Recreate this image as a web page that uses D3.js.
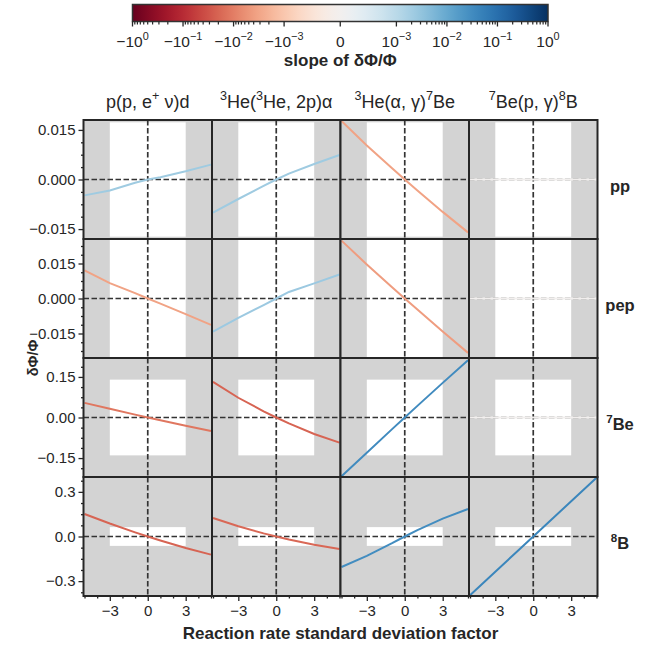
<!DOCTYPE html>
<html lang="en">
<head>
<meta charset="utf-8">
<title>Neutrino flux response to reaction rates</title>
<script src="https://cdn.jsdelivr.net/npm/d3@7"></script>
<style>
  body { margin: 0; background: #fff; }
  svg text { font-family: "Liberation Sans", Arial, sans-serif; fill: #262626; }
</style>
</head>
<body>
<svg id="chart" width="656" height="646"></svg>
<script>
// rate factors (in standard deviations) where the flux change was sampled
var xFactors = [-5, -3, -1, 0, 1, 3, 5];
var xTicks = [-3, 0, 3];
var xMinor = [-5, -4, -2, -1, 1, 2, 4, 5];

var reactions = ["p(p, e^{+} ν)d", "^{3}He(^{3}He, 2p)α", "^{3}He(α, γ)^{7}Be", "^{7}Be(p, γ)^{8}B"];
var fluxes = ["pp", "pep", "^{7}Be", "^{8}B"];

// δΦ/Φ for each flux, one list per reaction (columns)
var ppShift = [
  [-0.0048, -0.0033, -0.0010, 0, 0.0007, 0.0025, 0.0045],
  [-0.0100, -0.0059, -0.0019, 0, 0.0018, 0.0047, 0.0074],
  [0.0177, 0.0103, 0.0034, 0, -0.0033, -0.0098, -0.0160],
  [0, 0, 0, 0, 0, 0, 0]
];
var pepShift = [
  [0.0121, 0.0066, 0.0023, 0, -0.0022, -0.0067, -0.0113],
  [-0.0142, -0.0083, -0.0028, 0, 0.0028, 0.0065, 0.0103],
  [0.0248, 0.0146, 0.0048, 0, -0.0047, -0.0141, -0.0233],
  [0, 0, 0, 0, 0, 0, 0]
];
var be7Shift = [
  [0.054, 0.032, 0.0106, 0, -0.0103, -0.0307, -0.050],
  [0.132, 0.073, 0.023, 0, -0.022, -0.061, -0.093],
  [-0.217, -0.130, -0.043, 0, 0.043, 0.128, 0.212],
  [0, 0, 0, 0, 0, 0, 0]
];
var b8Shift = [
  [0.151, 0.087, 0.028, 0, -0.027, -0.077, -0.122],
  [0.124, 0.069, 0.021, 0, -0.020, -0.055, -0.084],
  [-0.205, -0.130, -0.045, 0, 0.043, 0.120, 0.185],
  [-0.395, -0.237, -0.079, 0, 0.079, 0.237, 0.395]
];
var shifts = [ppShift, pepShift, be7Shift, b8Shift];

// slope of δΦ/Φ per panel (sets the line colour)
var ppSlope = [0.0022, 0.0022, -0.0034, 0];
var pepSlope = [-0.0034, 0.0024, -0.0040, 0];
var be7Slope = [-0.012, -0.020, 0.032, 0];
var b8Slope = [-0.020, -0.018, 0.030, 0.040];
var slopes = [ppSlope, pepSlope, be7Slope, b8Slope];

// per-flux axis range, ticks and flux uncertainty band (white box)
var yLimits = [0.018, 0.0255, 0.22, 0.40];
var yTicks = [[-0.015, 0, 0.015], [-0.015, 0, 0.015], [-0.15, 0, 0.15], [-0.3, 0, 0.3]];
var yFormats = [".3f", ".3f", ".2f", ".1f"];
var fluxBand = [0.0173, 0.03, 0.14, 0.063];

// colour bar ticks
var cbMajor = [-1, -0.1, -0.01, -0.001, 0, 0.001, 0.01, 0.1, 1];
var cbLabels = ["−10^{0}", "−10^{−1}", "−10^{−2}", "−10^{−3}", "0", "10^{−3}", "10^{−2}", "10^{−1}", "10^{0}"];

var svg = d3.select("#chart");
var ink = "#262626";
var gridLeft = 83.5, gridTop = 120, pw = 128.5, ph = 119;

// symmetric log norm, linthresh 1e-3, linscale 1
var linthresh = 1e-3, linAdj = 1 / (1 - 1 / 10);
function symlog(v) {
  var a = Math.abs(v);
  if (a <= linthresh) return v / linthresh * linAdj;
  return Math.sign(v) * (linAdj + Math.log10(a / linthresh));
}
var fmax = symlog(1);
function slopeColor(s) {
  return d3.interpolateRdBu((symlog(s) + fmax) / (2 * fmax));
}

// text with ^{..} superscripts
function rich(t, str, size) {
  var parts = str.split(/(\^\{[^}]*\})/).filter(function(s) { return s.length; });
  var up = false;
  parts.forEach(function(p) {
    var sup = p.indexOf("^{") === 0;
    var ts = t.append("tspan").text(sup ? p.slice(2, -1) : p);
    if (sup) {
      ts.style("font-size", size * 0.7 + "px").attr("dy", up ? 0 : -size * 0.42);
      up = true;
    } else {
      ts.style("font-size", size + "px").attr("dy", up ? size * 0.42 : 0);
      up = false;
    }
  });
}

function styleAxis(g, size) {
  g.attr("font-family", null).attr("font-size", null);
  g.select(".domain").remove();
  g.selectAll(".tick line").attr("stroke", ink).attr("stroke-width", 1.3);
  g.selectAll(".tick text").attr("fill", ink).style("font-size", size + "px");
}

var x = d3.scaleLinear().domain([-5.08, 5.08]).range([0, pw]);
var defs = svg.append("defs");
defs.append("clipPath").attr("id", "panelclip")
  .append("rect").attr("width", pw).attr("height", ph);

shifts.forEach(function(rowData, r) {
  var lim = yLimits[r];
  var y = d3.scaleLinear().domain([-lim, lim]).range([ph, 0]);
  var line = d3.line().x(function(d, i) { return x(xFactors[i]); }).y(function(d) { return y(d); });

  rowData.forEach(function(vals, c) {
    var g = svg.append("g").attr("transform", "translate(" + (gridLeft + c * pw) + "," + (gridTop + r * ph) + ")");
    var inner = g.append("g").attr("clip-path", "url(#panelclip)");
    inner.append("rect").attr("width", pw).attr("height", ph).attr("fill", "#d3d3d3");
    inner.append("rect")
      .attr("x", x(-3)).attr("width", x(3) - x(-3))
      .attr("y", y(fluxBand[r])).attr("height", y(-fluxBand[r]) - y(fluxBand[r]))
      .attr("fill", "#fff");
    inner.append("line").attr("x1", x(0)).attr("x2", x(0)).attr("y1", 0).attr("y2", ph)
      .attr("stroke", "#333").attr("stroke-width", 1.7).attr("stroke-dasharray", "5.5,2.5");
    inner.append("line").attr("x1", 0).attr("x2", pw).attr("y1", y(0)).attr("y2", y(0))
      .attr("stroke", "#333").attr("stroke-width", 1.7).attr("stroke-dasharray", "5.5,2.5");
    inner.append("path").datum(vals).attr("d", line)
      .attr("fill", "none").attr("stroke", slopeColor(slopes[r][c])).attr("stroke-width", 2);

    if (c === 0) {
      var step = yTicks[r][2] / 4;
      var n = Math.floor(lim / step + 1e-9);
      var minor = d3.range(-n, n + 1).filter(function(k) { return k % 4 !== 0; })
        .map(function(k) { return k * step; });
      g.append("g").call(d3.axisLeft(y).tickValues(minor).tickSize(2.5).tickFormat(""))
        .call(styleAxis, 15);
      g.append("g").call(d3.axisLeft(y).tickValues(yTicks[r]).tickSize(5).tickPadding(3)
          .tickFormat(d3.format(yFormats[r])))
        .call(styleAxis, 15);
    }
    if (r === shifts.length - 1) {
      g.append("g").attr("transform", "translate(0," + ph + ")")
        .call(d3.axisBottom(x).tickValues(xMinor).tickSize(2.5).tickFormat(""))
        .call(styleAxis, 15);
      g.append("g").attr("transform", "translate(0," + ph + ")")
        .call(d3.axisBottom(x).tickValues(xTicks).tickSize(5).tickPadding(4).tickFormat(d3.format("d")))
        .call(styleAxis, 15);
    }
    g.append("rect").attr("width", pw).attr("height", ph)
      .attr("fill", "none").attr("stroke", ink).attr("stroke-width", 2);
  });

  var lab = svg.append("text").attr("x", 620).attr("y", gridTop + r * ph + ph / 2 + 12)
    .attr("text-anchor", "middle").attr("font-weight", "bold");
  rich(lab, fluxes[r], 16.5);
});

reactions.forEach(function(name, c) {
  var t = svg.append("text").attr("x", gridLeft + c * pw + pw / 2).attr("y", 108)
    .attr("text-anchor", "middle");
  rich(t, name, 18);
});

svg.append("text").attr("transform", "translate(38," + (gridTop + 2 * ph) + ") rotate(-90)")
  .attr("text-anchor", "middle").attr("font-weight", "bold").style("font-size", "14.5px")
  .text("δΦ/Φ");
svg.append("text").attr("x", gridLeft + 2 * pw).attr("y", 639)
  .attr("text-anchor", "middle").attr("font-weight", "bold").style("font-size", "17px")
  .text("Reaction rate standard deviation factor");

// colour bar
var cbX0 = 132.5, cbX1 = 548, cbY = 4.5, cbH = 17;
var cb = d3.scaleLinear().domain([-fmax, fmax]).range([cbX0, cbX1]);
var grad = defs.append("linearGradient").attr("id", "rdbu");
d3.range(0, 1.0001, 0.02).forEach(function(p) {
  grad.append("stop").attr("offset", p).attr("stop-color", d3.interpolateRdBu(p));
});
svg.append("rect").attr("x", cbX0).attr("y", cbY).attr("width", cbX1 - cbX0).attr("height", cbH)
  .attr("fill", "url(#rdbu)").attr("stroke", "#333").attr("stroke-width", 1.5);

var cbMinor = [];
[-3, -2, -1].forEach(function(e) {
  d3.range(2, 10).forEach(function(k) {
    cbMinor.push(k * Math.pow(10, e));
    cbMinor.push(-k * Math.pow(10, e));
  });
});
svg.append("g").selectAll("line").data(cbMinor).join("line")
  .attr("x1", function(d) { return cb(symlog(d)); }).attr("x2", function(d) { return cb(symlog(d)); })
  .attr("y1", cbY + cbH).attr("y2", cbY + cbH + 3)
  .attr("stroke", ink).attr("stroke-width", 1.2);
svg.append("g").selectAll("line").data(cbMajor).join("line")
  .attr("x1", function(d) { return cb(symlog(d)); }).attr("x2", function(d) { return cb(symlog(d)); })
  .attr("y1", cbY + cbH).attr("y2", cbY + cbH + 5)
  .attr("stroke", ink).attr("stroke-width", 1.3);
cbMajor.forEach(function(v, i) {
  var t = svg.append("text").attr("x", cb(symlog(v))).attr("y", 47).attr("text-anchor", "middle");
  rich(t, cbLabels[i], 15.5);
});
svg.append("text").attr("x", (cbX0 + cbX1) / 2).attr("y", 66)
  .attr("text-anchor", "middle").attr("font-weight", "bold").style("font-size", "17px")
  .text("slope of δΦ/Φ");
</script>
</body>
</html>
